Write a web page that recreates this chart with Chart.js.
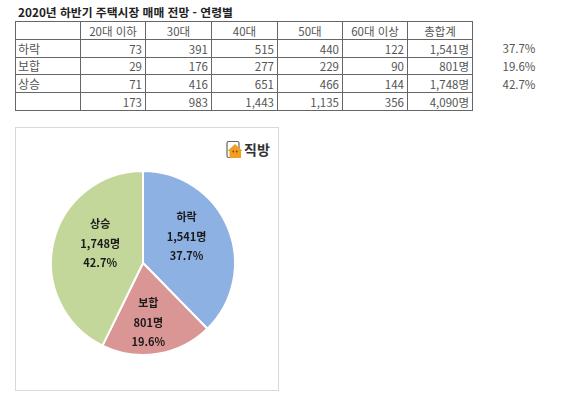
<!DOCTYPE html>
<html lang="ko">
<head>
<meta charset="utf-8">
<script src="https://cdn.jsdelivr.net/npm/chart.js@4"></script>
<style>
  html, body { margin: 0; background: #fff; }
  body { width: 570px; height: 394px; position: relative; overflow: hidden; font-family: "Noto Sans CJK KR", sans-serif; }
  #title { position: absolute; left: 18px; top: 4px; font-size: 11.8px; line-height: 16px; font-weight: 700; color: #222; white-space: nowrap; }
  table { position: absolute; left: 15px; top: 21px; border-collapse: collapse; table-layout: fixed; width: 457px; font-size: 11.5px; color: #555; }
  td { border: 1px solid #666; height: 17.8px; padding: 1px 3px 0; line-height: 14px; text-align: right; white-space: nowrap; box-sizing: border-box; overflow: hidden; }
  td.head { text-align: center; }
  td.name { text-align: left; padding-left: 2px; font-size: 12px; }
  .pct { position: absolute; left: 490px; width: 58px; text-align: center; font-size: 11.5px; line-height: 14px; color: #555; }
  #panel { position: absolute; left: 15px; top: 127px; width: 264px; height: 264px; box-sizing: border-box; border: 1px solid #d9d9d9; }
  #pieWrap { position: absolute; left: 43px; top: 163px; width: 200px; height: 200px; }
  #logo { position: absolute; left: 226px; top: 140px; width: 18px; height: 20px; }
  #logoText { position: absolute; left: 244px; top: 139px; font-size: 14px; line-height: 21px; font-weight: 700; color: #333; white-space: nowrap; }
</style>
</head>
<body>
<div id="title">2020년 하반기 주택시장 매매 전망 - 연령별</div>
<table id="tbl"></table>
<div id="panel"></div>
<div id="pieWrap"><canvas id="pie" width="200" height="200"></canvas></div>
<svg id="logo" viewBox="0 0 18 20">
  <rect x="1" y="1.5" width="12" height="16" rx="1.5" fill="#fff" stroke="#666" stroke-width="1.2"/>
  <path d="M1.5 11 L9 4 L16.5 11 L15 11 L15 18 L3.5 18 L3.5 11 Z" fill="#f0a020"/>
  <circle cx="7.3" cy="11.5" r="0.9" fill="#7a4a00"/>
  <circle cx="10.7" cy="11.5" r="0.9" fill="#7a4a00"/>
</svg>
<div id="logoText">직방</div>
<script>
const categories = ['하락', '보합', '상승'];
const ageGroups = ['20대 이하', '30대', '40대', '50대', '60대 이상'];
const falling = [73, 391, 515, 440, 122];
const steady = [29, 176, 277, 229, 90];
const rising = [71, 416, 651, 466, 144];
const ageTotals = [173, 983, 1443, 1135, 356];
const rowTotals = [1541, 801, 1748];
const grandTotal = 4090;
const shares = [37.7, 19.6, 42.7];

// column widths of the table
const colWidths = [65, 65, 66, 66, 65, 65, 65];

let html = '<colgroup>' + colWidths.map(w => `<col style="width:${w}px">`).join('') + '</colgroup>';
html += '<tr><td></td>' + ageGroups.map(a => `<td class="head">${a}</td>`).join('') + '<td class="head">총합계</td></tr>';
[falling, steady, rising].forEach((vals, i) => {
  html += `<tr><td class="name">${categories[i]}</td>` +
    vals.map(v => `<td>${v.toLocaleString('en-US')}</td>`).join('') +
    `<td>${rowTotals[i].toLocaleString('en-US')}명</td></tr>`;
});
html += '<tr><td></td>' + ageTotals.map(v => `<td>${v.toLocaleString('en-US')}</td>`).join('') +
  `<td>${grandTotal.toLocaleString('en-US')}명</td></tr>`;
document.getElementById('tbl').innerHTML = html;

shares.forEach((s, i) => {
  const d = document.createElement('div');
  d.className = 'pct';
  d.style.top = (41 + i * 17.8) + 'px';
  d.textContent = s.toFixed(1) + '%';
  document.body.appendChild(d);
});

// nudges from the slice centre to where the labels sit
const labelNudge = [[1, -9], [-2, 14], [2, -9]];

const pieLabels = {
  id: 'pieLabels',
  afterDatasetsDraw(chart) {
    const c = chart.ctx;
    c.save();
    c.textAlign = 'center';
    c.textBaseline = 'middle';
    c.font = '700 11px "Noto Sans CJK KR"';
    c.fillStyle = '#1a1a1a';
    chart.getDatasetMeta(0).data.forEach((arc, i) => {
      const p = arc.getCenterPoint();
      const x = p.x + labelNudge[i][0];
      const y = p.y + labelNudge[i][1];
      c.fillText(categories[i], x, y - 19.5);
      c.fillText(rowTotals[i].toLocaleString('en-US') + '명', x, y);
      c.fillText(shares[i].toFixed(1) + '%', x, y + 19.5);
    });
    c.restore();
  }
};

new Chart(document.getElementById('pie'), {
  type: 'pie',
  data: {
    labels: categories,
    datasets: [{
      data: rowTotals,
      backgroundColor: ['#8db1e2', '#da9694', '#c4d79b'],
      borderColor: '#fff',
      borderWidth: 2
    }]
  },
  options: {
    responsive: false,
    animation: false,
    layout: { padding: 7 },
    plugins: {
      legend: { display: false },
      tooltip: { enabled: false },
      title: { display: false }
    }
  },
  plugins: [pieLabels]
});
</script>
</body>
</html>
